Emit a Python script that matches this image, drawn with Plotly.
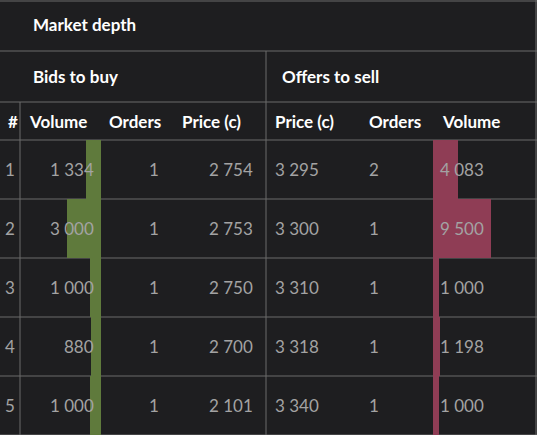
import plotly.graph_objects as go

W, H = 537, 435

rows = [1, 2, 3, 4, 5]
bid_volume = [1334, 3000, 1000, 880, 1000]
bid_orders = [1, 1, 1, 1, 1]
bid_price = [2754, 2753, 2750, 2700, 2101]
ask_price = [3295, 3300, 3310, 3318, 3340]
ask_orders = [2, 1, 1, 1, 1]
ask_volume = [4083, 9500, 1000, 1198, 1000]

BG = "#1e1e20"
LINE = "#6a6a6a"
GREEN = "#5f7a3c"
RED = "#8f3d55"
TXT = "#a3a3a3"
FONT = "Lato"


def fmt(v):
    return f"{v:,}".replace(",", " ")


def px(x):
    return x / W


def py(y):
    return 1 - y / H


top_rows = 140
row_h = (H - top_rows) / 5

fig = go.Figure()
fig.add_trace(go.Bar(y=rows, x=bid_volume, orientation="h", width=1,
                     marker=dict(color=GREEN, line=dict(width=0)),
                     xaxis="x", yaxis="y", hoverinfo="skip"))
fig.add_trace(go.Bar(y=rows, x=ask_volume, orientation="h", width=1,
                     marker=dict(color=RED, line=dict(width=0)),
                     xaxis="x2", yaxis="y", hoverinfo="skip"))

fig.update_layout(
    width=W, height=H, autosize=False,
    margin=dict(l=0, r=0, t=0, b=0),
    paper_bgcolor=BG, plot_bgcolor="rgba(0,0,0,0)",
    showlegend=False, bargap=0,
    xaxis=dict(domain=[0, px(101)], range=[8900, 0], visible=False, fixedrange=True),
    xaxis2=dict(domain=[px(433), 1], range=[0, 17000], visible=False, fixedrange=True),
    yaxis=dict(domain=[0, py(top_rows)], range=[5.5, 0.5], visible=False, fixedrange=True),
)

shapes = []
def hline(y, x0, x1):
    shapes.append(dict(type="line", xref="paper", yref="paper", x0=px(x0), x1=px(x1),
                       y0=py(y), y1=py(y), line=dict(color=LINE, width=1), layer="below"))
def vline(x, y0, y1):
    shapes.append(dict(type="line", xref="paper", yref="paper", x0=px(x), x1=px(x),
                       y0=py(y0), y1=py(y1), line=dict(color=LINE, width=1), layer="below"))

hline(1, 0, W)
hline(51, 0, W)
hline(102, 0, W)
for i in range(6):
    hline(top_rows + i * row_h, 0, W)
vline(20, 102, H)
vline(266, 51, H)
vline(536, 0, H)
fig.update_layout(shapes=shapes)

ann = []
def text(x, y, s, anchor="left", color=TXT, bold=False, size=17):
    ann.append(dict(x=px(x), y=py(y), xref="paper", yref="paper", text=f"<b>{s}</b>" if bold else s,
                    showarrow=False, xanchor=anchor, yanchor="middle",
                    font=dict(family=FONT, size=size, color=color)))

text(31, 24, "Market depth", color="white", bold=True)
text(31, 76, "Bids to buy", color="white", bold=True)
text(280, 76, "Offers to sell", color="white", bold=True)
for x, s in [(6, "#"), (27, "Volume"), (107, "Orders"), (180, "Price (c)"),
             (273, "Price (c)"), (367, "Orders"), (440, "Volume")]:
    text(x, 121, s, color="white", bold=True)

for i, r in enumerate(rows):
    y = top_rows + (i + 0.5) * row_h
    text(10, y, str(r), anchor="center")
    text(96, y, fmt(bid_volume[i]), anchor="right")
    text(161, y, str(bid_orders[i]), anchor="right")
    text(255, y, fmt(bid_price[i]), anchor="right")
    text(273, y, fmt(ask_price[i]))
    text(367, y, str(ask_orders[i]))
    text(438, y, fmt(ask_volume[i]))
fig.update_layout(annotations=ann)

fig.write_html("out.html", config={"displayModeBar": False},
               post_script="document.body.style.margin='0';document.body.style.overflow='hidden';")
